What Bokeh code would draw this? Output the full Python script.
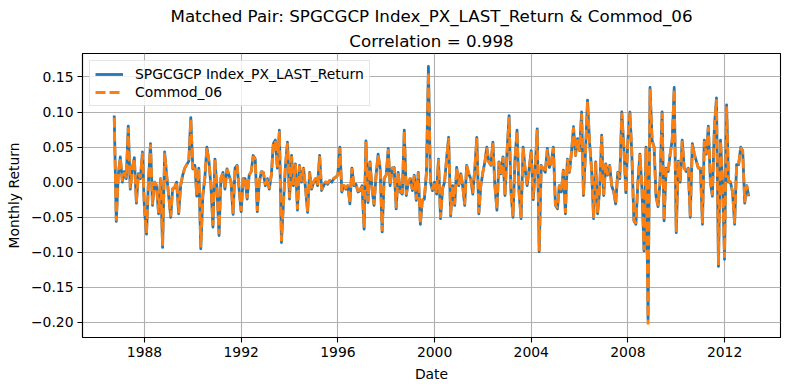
import pandas as pd
from bokeh.plotting import figure
from bokeh.models import (Range1d, FixedTicker, CustomJSTickFormatter, Title,
                          Legend, LegendItem, ColumnDataSource)
from bokeh.embed import file_html
from bokeh.resources import INLINE

# ---------------- data ----------------
start_month = "1986-09-01"

spgcgcp = [
    0.095, -0.056, 0.010, 0.036, 0.000, 0.015, 0.005, 0.080, -0.010, 0.020,
    0.035, -0.030, 0.012, 0.005, 0.043, -0.040, -0.074, 0.000, 0.055, -0.033,
    0.000, -0.005, -0.045, 0.005, -0.093, 0.043, 0.010, -0.020, -0.050, -0.010,
    -0.008, 0.000, -0.045, -0.005, 0.010, 0.020, 0.025, 0.030, 0.092, 0.019,
    0.024, -0.020, 0.020, -0.095, -0.019, 0.005, 0.050, 0.030, -0.005, -0.064,
    0.033, -0.010, -0.076, 0.005, 0.014, -0.010, 0.019, 0.010, 0.000, -0.046,
    0.020, 0.024, -0.010, -0.042, 0.005, 0.005, -0.024, 0.010, 0.015, 0.038,
    0.033, -0.042, 0.000, 0.015, 0.014, -0.005, 0.005, -0.010, 0.010, 0.055,
    0.060, 0.020, 0.074, -0.086, -0.030, 0.024, 0.057, -0.024, 0.038, -0.005,
    0.026, -0.040, 0.024, 0.000, 0.020, -0.010, -0.043, 0.014, -0.010, 0.000,
    0.005, -0.005, 0.038, -0.012, -0.005, 0.000, -0.003, 0.002, 0.000, 0.005,
    0.007, 0.010, 0.050, -0.014, -0.005, -0.010, -0.005, -0.031, 0.020, -0.005,
    -0.003, -0.014, -0.012, -0.005, -0.067, 0.059, -0.029, 0.029, -0.010, -0.033,
    0.010, 0.040, 0.020, -0.071, 0.005, 0.010, 0.048, -0.005, 0.020, 0.021,
    -0.038, 0.014, -0.014, -0.017, 0.074, -0.019, 0.000, 0.005, -0.012, 0.010,
    -0.026, 0.014, -0.060, -0.026, -0.024, 0.014, 0.165, 0.000, -0.012, 0.000,
    -0.017, 0.033, -0.052, -0.010, 0.000, 0.033, 0.064, -0.048, -0.005, -0.033,
    0.021, -0.005, 0.012, -0.005, -0.033, 0.024, 0.012, 0.005, -0.017, 0.019,
    0.064, -0.045, -0.005, 0.014, 0.029, 0.050, 0.029, 0.024, 0.057, -0.005,
    -0.040, 0.029, 0.012, 0.036, -0.019, 0.043, 0.095, -0.014, -0.050, 0.033,
    0.074, -0.014, -0.052, 0.050, 0.019, -0.005, 0.019, 0.045, -0.025, 0.019,
    0.076, -0.099, 0.024, 0.019, 0.014, 0.048, 0.021, 0.029, 0.050, -0.033,
    -0.038, -0.005, -0.014, 0.017, -0.045, 0.033, 0.014, 0.043, 0.079, 0.038,
    0.062, 0.045, 0.100, -0.019, 0.043, 0.117, 0.057, 0.019, -0.052, 0.029,
    -0.045, -0.010, 0.067, -0.019, 0.026, 0.010, 0.024, -0.005, -0.014, -0.031,
    0.014, 0.005, 0.100, 0.050, -0.015, 0.060, 0.100, 0.040, -0.055, -0.060,
    0.000, 0.040, -0.010, -0.098, 0.050, -0.196, 0.135, 0.060, 0.050, -0.020,
    -0.035, 0.000, 0.100, -0.055, 0.020, 0.015, 0.040, 0.060, 0.135, -0.072,
    0.030, 0.000, 0.060, 0.020, 0.015, 0.020, -0.050, 0.055, 0.040, 0.030,
    0.020, 0.020, -0.060, 0.060, 0.040, 0.080, 0.000, -0.020, 0.080, 0.120,
    -0.120, 0.060, 0.000, -0.110, 0.110, 0.000, 0.000, -0.015, -0.060, 0.025,
    0.025, 0.050, 0.045, -0.030, -0.005, -0.020,
]

commod_06 = [
    0.092, -0.055, 0.011, 0.035, 0.001, 0.014, 0.006, 0.078, -0.009, 0.019,
    0.034, -0.029, 0.012, 0.006, 0.042, -0.039, -0.073, 0.001, 0.054, -0.032,
    0.001, -0.004, -0.044, 0.006, -0.091, 0.042, 0.011, -0.019, -0.049, -0.009,
    -0.007, 0.001, -0.044, -0.004, 0.011, 0.020, 0.025, 0.030, 0.090, 0.019,
    0.024, -0.019, 0.020, -0.093, -0.018, 0.006, 0.049, 0.030, -0.004, -0.062,
    0.032, -0.009, -0.074, 0.006, 0.014, -0.009, 0.019, 0.010, 0.001, -0.045,
    0.020, 0.024, -0.009, -0.041, 0.006, 0.006, -0.023, 0.010, 0.015, 0.037,
    0.032, -0.041, 0.001, 0.015, 0.014, -0.004, 0.006, -0.009, 0.010, 0.054,
    0.059, 0.020, 0.073, -0.084, -0.029, 0.024, 0.056, -0.023, 0.037, -0.004,
    0.026, -0.039, 0.024, 0.001, 0.020, -0.009, -0.042, 0.014, -0.009, 0.001,
    0.006, -0.004, 0.037, -0.011, -0.004, 0.001, -0.002, 0.003, 0.001, 0.006,
    0.007, 0.010, 0.049, -0.013, -0.004, -0.009, -0.004, -0.030, 0.020, -0.004,
    -0.002, -0.013, -0.011, -0.004, -0.065, 0.058, -0.028, 0.029, -0.009, -0.032,
    0.010, 0.039, 0.020, -0.070, 0.006, 0.010, 0.047, -0.004, 0.020, 0.021,
    -0.037, 0.014, -0.013, -0.016, 0.073, -0.018, 0.001, 0.006, -0.011, 0.010,
    -0.025, 0.014, -0.059, -0.025, -0.023, 0.014, 0.157, 0.001, -0.011, 0.001,
    -0.016, 0.033, -0.051, -0.009, 0.001, 0.033, 0.063, -0.047, -0.004, -0.032,
    0.021, -0.004, 0.012, -0.004, -0.032, 0.024, 0.012, 0.006, -0.016, 0.019,
    0.063, -0.044, -0.004, 0.014, 0.029, 0.049, 0.029, 0.024, 0.056, -0.004,
    -0.039, 0.029, 0.012, 0.036, -0.018, 0.042, 0.093, -0.013, -0.049, 0.033,
    0.073, -0.013, -0.051, 0.049, 0.019, -0.004, 0.019, 0.044, -0.024, 0.019,
    0.075, -0.098, 0.024, 0.019, 0.014, 0.047, 0.021, 0.029, 0.049, -0.032,
    -0.037, -0.004, -0.013, 0.017, -0.044, 0.033, 0.014, 0.042, 0.078, 0.037,
    0.061, 0.044, 0.098, -0.018, 0.042, 0.115, 0.056, 0.019, -0.051, 0.029,
    -0.044, -0.009, 0.066, -0.018, 0.026, 0.010, 0.024, -0.004, -0.013, -0.030,
    0.014, 0.006, 0.099, 0.049, -0.014, 0.059, 0.099, 0.040, -0.054, -0.059,
    0.001, 0.040, -0.009, -0.097, 0.049, -0.203, 0.133, 0.059, 0.049, -0.019,
    -0.034, 0.001, 0.099, -0.054, 0.020, 0.015, 0.040, 0.059, 0.133, -0.071,
    0.030, 0.001, 0.059, 0.020, 0.015, 0.020, -0.049, 0.054, 0.040, 0.030,
    0.020, 0.020, -0.059, 0.059, 0.040, 0.079, 0.001, -0.019, 0.079, 0.118,
    -0.118, 0.059, 0.001, -0.108, 0.108, 0.001, 0.001, -0.014, -0.059, 0.025,
    0.025, 0.049, 0.044, -0.029, -0.004, -0.019,
]

year_ticks = [1988, 1992, 1996, 2000, 2004, 2008, 2012]
y_ticks = [-0.20, -0.15, -0.10, -0.05, 0.00, 0.05, 0.10, 0.15]

title_1 = "Matched Pair: SPGCGCP Index_PX_LAST_Return & Commod_06"
title_2 = "Correlation = 0.998"

# ---------------- build ----------------
dates = pd.date_range(start_month, periods=len(spgcgcp), freq="MS") + pd.offsets.MonthEnd(0)
src = ColumnDataSource(dict(date=dates, a=spgcgcp, b=commod_06))

span = dates[-1] - dates[0]
x_lo = dates[0] - 0.05 * span
x_hi = dates[-1] + 0.05 * span
vmin = min(min(spgcgcp), min(commod_06))
vmax = max(max(spgcgcp), max(commod_06))
vs = vmax - vmin

FONT = "DejaVu Sans"
p = figure(width=790, height=390, x_axis_type="datetime", title=None,
           output_backend="svg", toolbar_location=None,
           x_range=Range1d(x_lo, x_hi),
           y_range=Range1d(vmin - 0.05 * vs, vmax + 0.05 * vs),
           min_border_left=82, min_border_right=10,
           min_border_top=53, min_border_bottom=53)
p.background_fill_color = "white"
p.border_fill_color = "white"
p.outline_line_color = "black"
p.outline_line_width = 1.1

p.add_layout(Title(text=title_2, align="center", text_font=FONT,
                   text_font_size="16.7px", text_font_style="normal",
                   text_color="black", standoff=6), "above")
p.add_layout(Title(text=title_1, align="center", text_font=FONT,
                   text_font_size="16.7px", text_font_style="normal",
                   text_color="black", standoff=0), "above")

r1 = p.line(x="date", y="a", source=src, color="#1f77b4", line_width=2.78,
            line_join="round")
r2 = p.line(x="date", y="b", source=src, color="#ff7f0e", line_width=2.78,
            line_dash="10 4")

p.xaxis.ticker = FixedTicker(ticks=[pd.Timestamp(f"{y}-01-01").value / 1e6 for y in year_ticks])
p.xaxis.formatter = CustomJSTickFormatter(code="return String(new Date(tick).getUTCFullYear());")
p.yaxis.ticker = FixedTicker(ticks=y_ticks)
p.yaxis.formatter = CustomJSTickFormatter(
    code="var s = Math.abs(tick).toFixed(2); return (tick < -1e-9 ? '\u2212' : '') + s;")

for ax in (p.xaxis[0], p.yaxis[0]):
    ax.axis_line_color = "black"
    ax.axis_line_width = 1.1
    ax.major_tick_line_color = "black"
    ax.major_tick_line_width = 1.1
    ax.major_tick_out = 5
    ax.major_tick_in = 0
    ax.minor_tick_out = 0
    ax.minor_tick_in = 0
    ax.major_label_text_font = FONT
    ax.major_label_text_font_size = "13.9px"
    ax.major_label_text_color = "black"
    ax.major_label_standoff = 4
    ax.axis_label_text_font = FONT
    ax.axis_label_text_font_size = "13.9px"
    ax.axis_label_text_font_style = "normal"
    ax.axis_label_text_color = "black"
    ax.axis_label_standoff = 6

p.xaxis.axis_label = "Date"
p.yaxis.axis_label = "Monthly Return"

for g in (p.xgrid[0], p.ygrid[0]):
    g.grid_line_color = "#b0b0b0"
    g.grid_line_width = 1.1
p.xgrid.ticker = p.xaxis.ticker
p.ygrid.ticker = p.yaxis.ticker

legend = Legend(items=[LegendItem(label="SPGCGCP Index_PX_LAST_Return", renderers=[r1]),
                       LegendItem(label="Commod_06", renderers=[r2])],
                location="top_left")
legend.label_text_font = FONT
legend.label_text_font_size = "13.9px"
legend.label_text_color = "black"
legend.glyph_width = 28
legend.glyph_height = 16
legend.label_height = 16
legend.label_standoff = 12
legend.spacing = 2
legend.padding = 5
legend.margin = 7
legend.border_line_color = "#cccccc"
legend.border_line_width = 1
legend.background_fill_alpha = 0.8
p.add_layout(legend)

open("out.html", "w").write(file_html(p, INLINE))
